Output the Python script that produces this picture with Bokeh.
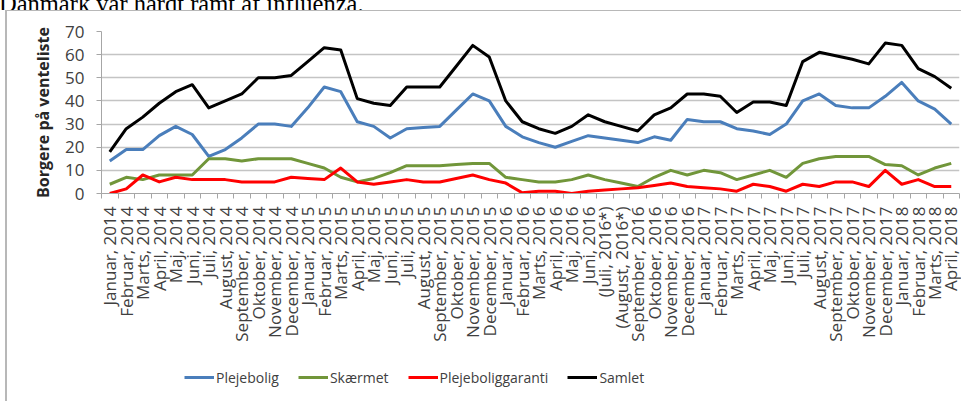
from bokeh.plotting import figure
from bokeh.models import Range1d, FixedTicker, Legend, LegendItem, Div
from bokeh.layouts import column
from bokeh.embed import file_html
from bokeh.resources import INLINE

months = ["Januar", "Februar", "Marts", "April", "Maj", "Juni", "Juli",
          "August", "September", "Oktober", "November", "December"]
labels = []
for yr in [2014, 2015, 2016, 2017, 2018]:
    for m in months:
        if yr == 2018 and m == "Maj":
            break
        if yr == 2016 and m in ("Juli", "August"):
            labels.append(f"({m}, {yr}*)")
        else:
            labels.append(f"{m}, {yr}")

plejebolig = [14, 19, 19, 25, 29, 25.5, 16, 19, 24, 30, 30, 29, 37, 46,
              44, 31, 29, 24, 28, 28.5, 29, 36, 43, 40, 29, 24.5, 22, 20, 22.5, 25, 24, 23, 22,
              24.5, 23, 32, 31, 31, 28, 27, 25.5, 30, 40, 43, 38, 37, 37, 42, 48, 40, 36.5, 30]
skaermet = [4, 7, 6, 8, 8, 8, 15, 15, 14, 15, 15, 15, 13, 11,
            7, 5, 6.5, 9, 12, 12, 12, 12.5, 13, 13, 7, 6, 5, 5, 6, 8, 6, 4.5, 3,
            7, 10, 8, 10, 9, 6, 8, 10, 7, 13, 15, 16, 16, 16, 12.5, 12, 8, 11, 13]
garanti = [0, 2, 8, 5, 7, 6, 6, 6, 5, 5, 5, 7, 6.5, 6,
           11, 5, 4, 5, 6, 5, 5, 6.5, 8, 6, 4.5, 0.3, 1, 1, 0, 1, 1.5, 2, 2.5,
           3.5, 4.5, 3, 2.5, 2, 1, 4, 3, 1, 4, 3, 5, 5, 3, 10, 4, 6, 3, 3]
samlet = [18, 28, 33, 39, 44, 47, 37, 40, 43, 50, 50, 51, 57, 63,
          62, 41, 39, 38, 46, 46, 46, 55, 64, 59, 40, 31, 28, 26, 29, 34, 31, 29, 27,
          34, 37, 43, 43, 42, 35, 39.5, 39.5, 38, 57, 61, 59.5, 58, 56, 65, 64, 54, 50.5, 45.5]

series = [("Plejebolig", plejebolig, "#4a7ebb"),
          ("Skærmet", skaermet, "#71963a"),
          ("Plejeboliggaranti", garanti, "#ff0000"),
          ("Samlet", samlet, "#000000")]

caption = "Danmark var hårdt ramt af influenza."

n = len(labels)
xs = [i + 0.5 for i in range(n)]

FONT = "Open Sans"
p = figure(width=954, height=349, output_backend="svg", toolbar_location=None,
           x_range=Range1d(0, n), y_range=Range1d(0, 70),
           min_border_left=94, min_border_right=2, min_border_top=20, min_border_bottom=167)
p.outline_line_color = None
p.background_fill_color = "white"
p.border_fill_color = "white"

# x axis
p.xaxis.ticker = FixedTicker(ticks=xs, minor_ticks=list(range(n + 1)))
p.xaxis.major_label_overrides = {x: l for x, l in zip(xs, labels)}
p.xaxis.major_label_orientation = 3.14159265 / 2
p.xaxis.major_label_text_font = FONT
p.xaxis.major_label_text_font_size = "17px"
p.xaxis.major_label_text_color = "#404040"
p.xaxis.major_tick_line_color = None
p.xaxis.major_tick_out = 5
p.xaxis.major_tick_in = 0
p.xaxis.minor_tick_out = 5
p.xaxis.minor_tick_in = 0
p.xaxis.minor_tick_line_color = "#a6a6a6"
p.xaxis.axis_line_color = "#a6a6a6"
p.xaxis.major_label_standoff = 8
p.xgrid.grid_line_color = None

# y axis
p.yaxis.ticker = FixedTicker(ticks=list(range(0, 71, 10)))
p.yaxis.axis_label = "Borgere på venteliste"
p.yaxis.axis_label_text_font = FONT
p.yaxis.axis_label_text_font_style = "bold"
p.yaxis.axis_label_text_font_size = "16px"
p.yaxis.axis_label_text_color = "#262626"
p.yaxis.axis_label_standoff = 8
p.yaxis.major_label_text_font = FONT
p.yaxis.major_label_text_font_size = "17px"
p.yaxis.major_label_text_color = "#404040"
p.yaxis.major_label_standoff = 12
p.yaxis.major_tick_out = 5
p.yaxis.major_tick_in = 0
p.yaxis.major_tick_line_color = "#a6a6a6"
p.yaxis.minor_tick_line_color = None
p.yaxis.axis_line_color = "#a6a6a6"
p.ygrid.grid_line_color = "#c4c4c4"
p.ygrid.grid_line_width = 1.5

for name, vals, col in series:
    p.line(xs, vals, line_color=col, line_width=3, line_join="round")

# legend strip below the chart (same series, drawn out of view; only the key shows)
lfig = figure(width=954, height=41, output_backend="svg", toolbar_location=None,
              x_range=Range1d(0, n), y_range=Range1d(1000, 1001),
              x_axis_type=None, y_axis_type=None,
              min_border_left=0, min_border_right=0, min_border_top=0, min_border_bottom=0)
lfig.outline_line_color = None
lfig.grid.grid_line_color = None
lfig.border_fill_color = "white"
items = []
for name, vals, col in series:
    r = lfig.line(xs, vals, line_color=col, line_width=3)
    items.append(LegendItem(label=name, renderers=[r]))

legend = Legend(items=items, orientation="horizontal", location=(83, 14),
                label_text_font=FONT, label_text_font_size="14px",
                label_text_color="#404040", label_standoff=2, spacing=19,
                glyph_width=30, glyph_height=20, padding=0, margin=0,
                border_line_color=None, background_fill_alpha=0)
lfig.add_layout(legend)

# caption text above the chart box (only its lower part is inside the picture)
cap = Div(text=f'<div style="margin:-15px 0 0 -1px;font:24.5px/24px \'Liberation Serif\';'
               f'color:#000;white-space:nowrap">{caption}</div>',
          width=968, height=10, margin=0, styles={"overflow": "hidden"})

chart = column(p, lfig, spacing=0, margin=(0, 0, 0, 5),
               styles={"border-left": "2px solid #b8b8b8", "border-top": "1px solid #b8b8b8"})
layout = column(cap, chart, spacing=0)
open("out.html", "w").write(file_html(layout, INLINE))
